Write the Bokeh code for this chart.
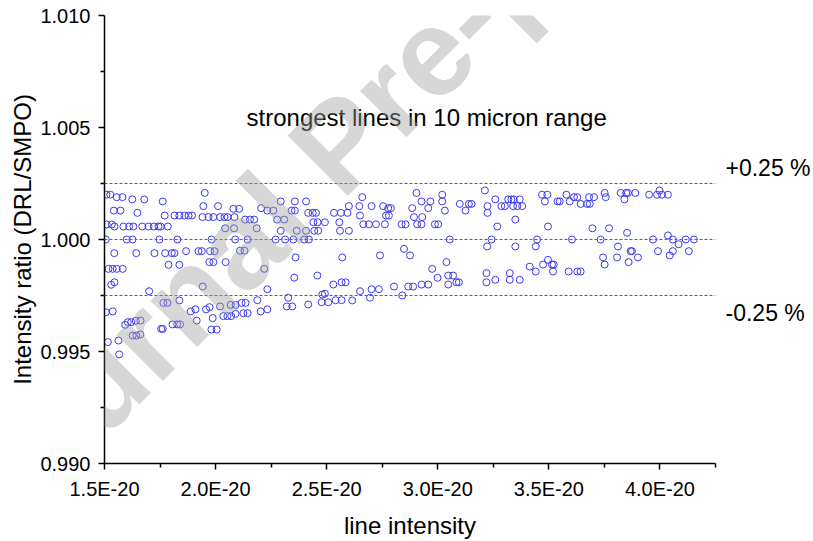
from bokeh.plotting import figure
from bokeh.models import (Span, Label, FixedTicker, CustomJSTickFormatter,
                          Range1d, LinearAxis)
from bokeh.embed import file_html
from bokeh.resources import INLINE

# line intensity, in units of 1E-20
intensity = [
    1.509, 1.526, 1.555, 1.581, 1.625, 1.679, 1.762, 1.951, 1.945, 1.542,
    1.572, 1.648, 1.771, 1.815, 1.837, 1.860, 1.878, 1.894, 1.941, 1.968,
    1.990, 1.510, 1.533, 1.545, 1.585, 1.611, 1.630, 1.670, 1.698, 1.722,
    1.743, 1.753, 1.785, 1.506, 1.600, 1.626, 1.747, 1.828, 1.982, 1.544,
    1.643, 1.725, 1.773, 1.803, 1.815, 1.867, 1.923, 1.938, 1.975, 1.995,
    1.972, 1.990, 1.788, 1.837, 1.518, 1.537, 1.555, 1.582, 1.545, 1.530,
    1.942, 1.701, 1.765, 1.783, 1.837, 1.506, 1.537, 1.888, 1.909, 1.957,
    1.973, 1.593, 1.605, 1.620, 1.641, 1.662, 1.915, 1.987, 1.806, 1.827,
    1.840, 1.755, 1.762, 1.981, 2.005, 1.627, 1.643, 1.661, 1.515, 1.563,
    1.566,
    2.011, 2.293, 2.357, 2.407, 2.080, 2.106, 2.205, 2.233, 2.260, 2.342,
    2.357, 2.417, 2.437, 2.452, 2.533, 2.564, 2.020, 2.040, 2.054, 2.085,
    2.133, 2.155, 2.174, 2.277, 2.309, 2.440, 2.459, 2.492, 2.557, 2.043,
    2.083, 2.185, 2.293, 2.365, 2.407, 2.444, 2.462, 2.560, 2.088, 2.144,
    2.270, 2.313, 2.350, 2.399, 2.420, 2.110, 2.130, 2.360, 2.570, 2.045,
    2.219, 2.458, 2.354, 2.530, 2.567, 2.233, 2.492, 2.480, 2.327, 2.188,
    2.477, 2.507, 2.540, 2.567, 2.417, 2.320, 2.345, 2.020, 2.068, 2.090,
    2.117, 2.135, 2.035, 2.053, 2.070, 2.090, 2.125, 2.144, 2.203, 2.233,
    2.904, 3.020, 2.660, 2.927, 2.967, 3.020, 3.099, 2.600, 2.647, 2.702,
    2.754, 2.777, 2.789, 2.885, 2.957, 3.032, 2.594, 2.650, 2.767, 2.780,
    2.893, 2.930, 2.665, 2.690, 2.722, 2.762, 2.837, 2.855, 2.907, 2.927,
    2.987, 3.002, 2.600, 3.054, 2.848, 2.875, 2.740, 3.039, 2.975, 2.999,
    3.047, 3.069, 3.084, 3.095, 3.047, 2.585, 2.927, 2.957, 2.803, 2.867,
    2.889, 2.702, 2.735, 2.650, 2.840, 2.695, 2.615,
    3.212, 3.469, 3.493, 3.579, 3.613, 3.628, 3.259, 3.317, 3.331, 3.342,
    3.369, 3.482, 3.539, 3.549, 3.594, 3.140, 3.152, 3.643, 3.224, 3.286,
    3.302, 3.339, 3.358, 3.380, 3.125, 3.224, 3.349, 3.268, 3.496, 3.242,
    3.447, 3.604, 3.222, 3.349, 3.441, 3.496, 3.474, 3.514, 3.522, 3.414,
    3.441, 3.519, 3.589, 3.628, 3.643, 3.219, 3.324, 3.219, 3.259, 3.324,
    3.369,
    3.751, 3.823, 3.848, 3.856, 3.889, 3.998, 3.951, 3.987, 4.009, 4.036,
    3.681, 3.703, 3.756, 3.840, 3.672, 3.684, 3.696, 3.771, 3.852, 3.733,
    3.969, 4.036, 4.058, 4.116, 4.153, 4.084, 3.811, 3.868, 3.874, 3.991,
    4.058, 4.130, 3.744, 3.807, 3.901, 4.044, 3.751, 3.859,
]

# intensity ratio DRL/SMPO
ratio = [
    1.00200, 1.00200, 1.00189, 1.00189, 1.00179, 1.00179, 1.00170, 1.00208, 1.00149, 1.00129,
    1.00129, 1.00119, 1.00107, 1.00107, 1.00107, 1.00107, 1.00107, 1.00107, 1.00100, 1.00100,
    1.00100, 1.00067, 1.00067, 1.00058, 1.00058, 1.00058, 1.00058, 1.00058, 1.00058, 1.00058,
    1.00058, 1.00058, 1.00058, 1.00000, 1.00000, 1.00000, 1.00000, 1.00000, 1.00000, 0.99939,
    0.99939, 0.99939, 0.99939, 0.99939, 0.99939, 0.99948, 0.99948, 0.99948, 0.99948, 0.99948,
    0.99899, 0.99899, 0.99887, 0.99887, 0.99869, 0.99869, 0.99869, 0.99869, 0.99809, 0.99798,
    0.99790, 0.99769, 0.99717, 0.99717, 0.99728, 0.99675, 0.99679, 0.99679, 0.99688, 0.99688,
    0.99698, 0.99619, 0.99631, 0.99631, 0.99637, 0.99638, 0.99638, 0.99649, 0.99621, 0.99621,
    0.99621, 0.99601, 0.99601, 0.99598, 0.99598, 0.99571, 0.99571, 0.99576, 0.99542, 0.99549,
    0.99487,
    1.00149, 1.00170, 1.00170, 1.00170, 1.00137, 1.00137, 1.00140, 1.00129, 1.00129, 1.00129,
    1.00129, 1.00119, 1.00119, 1.00119, 1.00119, 1.00119, 1.00100, 1.00100, 1.00100, 1.00100,
    1.00089, 1.00089, 1.00089, 1.00089, 1.00089, 1.00077, 1.00077, 1.00077, 1.00077, 1.00050,
    1.00050, 1.00050, 1.00039, 1.00039, 1.00039, 1.00039, 1.00039, 1.00039, 1.00000, 1.00000,
    1.00000, 1.00000, 1.00000, 1.00000, 1.00000, 0.99950, 0.99950, 0.99920, 0.99920, 0.99899,
    0.99869, 0.99839, 0.99830, 0.99799, 0.99809, 0.99778, 0.99758, 0.99754, 0.99740, 0.99729,
    0.99720, 0.99720, 0.99729, 0.99729, 0.99710, 0.99701, 0.99701, 0.99701, 0.99708, 0.99708,
    0.99717, 0.99717, 0.99658, 0.99658, 0.99658, 0.99668, 0.99671, 0.99671, 0.99679, 0.99688,
    1.00208, 1.00200, 1.00189, 1.00170, 1.00170, 1.00170, 1.00159, 1.00149, 1.00149, 1.00149,
    1.00149, 1.00140, 1.00140, 1.00140, 1.00140, 1.00129, 1.00119, 1.00107, 1.00107, 1.00107,
    1.00100, 1.00100, 1.00068, 1.00068, 1.00068, 1.00068, 1.00068, 1.00068, 1.00068, 1.00068,
    1.00068, 1.00068, 1.00039, 1.00000, 0.99958, 0.99929, 0.99929, 0.99899, 0.99869, 0.99829,
    0.99839, 0.99839, 0.99809, 0.99809, 0.99799, 0.99809, 0.99799, 0.99799, 0.99790, 0.99790,
    0.99790, 0.99778, 0.99778, 0.99769, 0.99750, 0.99740, 0.99728,
    1.00219, 1.00200, 1.00200, 1.00200, 1.00189, 1.00189, 1.00179, 1.00179, 1.00179, 1.00179,
    1.00179, 1.00170, 1.00170, 1.00170, 1.00170, 1.00159, 1.00159, 1.00159, 1.00149, 1.00149,
    1.00149, 1.00149, 1.00149, 1.00149, 1.00129, 1.00119, 1.00089, 1.00058, 1.00058, 1.00000,
    1.00000, 1.00000, 0.99969, 0.99969, 0.99969, 0.99909, 0.99888, 0.99888, 0.99888, 0.99879,
    0.99857, 0.99857, 0.99857, 0.99857, 0.99857, 0.99850, 0.99850, 0.99809, 0.99820, 0.99820,
    0.99820,
    1.00208, 1.00208, 1.00208, 1.00208, 1.00208, 1.00219, 1.00200, 1.00200, 1.00200, 1.00200,
    1.00189, 1.00189, 1.00189, 1.00179, 1.00159, 1.00159, 1.00050, 1.00050, 1.00030, 1.00000,
    1.00000, 1.00018, 1.00000, 1.00000, 1.00000, 0.99979, 0.99969, 0.99948, 0.99948, 0.99948,
    0.99948, 0.99948, 0.99920, 0.99920, 0.99920, 0.99929, 0.99888, 0.99899,
]

x_ticks = [1.5, 2.0, 2.5, 3.0, 3.5, 4.0]
x_minor = [1.75, 2.25, 2.75, 3.25, 3.75, 4.25]
y_ticks = [0.990, 0.995, 1.000, 1.005, 1.010]
y_minor = [0.9925, 0.9975, 1.0025, 1.0075]
limits = [1.0025, 1.0000, 0.9975]
limit_labels = ["+0.25 %", "-0.25 %"]

FONT = "Liberation Sans"

p = figure(
    width=813, height=541, title=None,
    output_backend="svg", toolbar_location=None,
    x_range=Range1d(1.5, 4.25), y_range=Range1d(0.990, 1.010),
    min_border_left=104, min_border_right=97,
    min_border_top=15, min_border_bottom=78,
)
p.background_fill_color = "white"
p.border_fill_color = "white"
p.outline_line_color = None
p.grid.visible = False

# axes
for ax in (p.xaxis[0], p.yaxis[0]):
    ax.axis_line_color = "black"
    ax.axis_line_width = 1.5
    ax.major_tick_line_color = "black"
    ax.major_tick_line_width = 1.5
    ax.minor_tick_line_color = "black"
    ax.minor_tick_line_width = 1.5
    ax.major_tick_in = 0
    ax.major_tick_out = 6
    ax.minor_tick_in = 0
    ax.minor_tick_out = 4
    ax.major_label_text_font = FONT
    ax.major_label_text_font_size = "20px"
    ax.major_label_text_color = "black"
    ax.axis_label_text_font = FONT
    ax.axis_label_text_font_size = "24px"
    ax.axis_label_text_font_style = "normal"
    ax.axis_label_text_color = "black"

p.xaxis.ticker = FixedTicker(ticks=x_ticks, minor_ticks=x_minor)
p.yaxis.ticker = FixedTicker(ticks=y_ticks, minor_ticks=y_minor)
p.xaxis.formatter = CustomJSTickFormatter(code="return tick.toFixed(1) + 'E-20';")
p.yaxis.formatter = CustomJSTickFormatter(code="return tick.toFixed(3);")
p.xaxis.axis_label = "line intensity"
p.yaxis.axis_label = "Intensity ratio (DRL/SMPO)"
p.xaxis.major_label_standoff = 8
p.xaxis.axis_label_standoff = 9
p.yaxis.major_label_standoff = 8
p.yaxis.axis_label_standoff = 1

# reference lines at 0 and +/-0.25 %
for loc in limits:
    p.add_layout(Span(location=loc, dimension="width", line_color="#626262",
                      line_width=1, line_dash="3 2"))

# "+0.25 %" / "-0.25 %" captions in the right margin: a bare right axis whose
# two labels sit just above the upper line and just below the lower one
caption_axis = LinearAxis(
    ticker=FixedTicker(ticks=[0.99670, 1.00321], minor_ticks=[]),
    formatter=CustomJSTickFormatter(args=dict(names=limit_labels),
                                    code="return tick > 1 ? names[0] : names[1];"),
    axis_line_color=None, major_tick_line_color=None, minor_tick_line_color=None,
    major_tick_in=0, major_tick_out=0, minor_tick_in=0, minor_tick_out=0,
    major_label_standoff=10,
    major_label_text_font=FONT, major_label_text_font_size="23px",
    major_label_text_color="black",
)
p.add_layout(caption_axis, "right")

p.scatter(intensity, ratio, marker="circle", size=7, fill_color=None,
          line_color="#3a3af0", line_width=1)

p.add_layout(Label(x=2.95, y=1.00545, text="strongest lines in 10 micron range",
                   text_font=FONT, text_font_size="24px", text_color="black",
                   text_align="center", text_baseline="middle"))

# diagonal watermark
p.add_layout(Label(x=-30, y=512, x_units="canvas", y_units="canvas",
                   text="Journal Pre-proof", angle=45, angle_units="deg",
                   text_font=FONT, text_font_size="124px", text_font_style="bold",
                   text_color="#a0a0a0", text_alpha=0.42,
                   text_align="left", text_baseline="alphabetic"))

open("out.html", "w").write(file_html(p, INLINE))
